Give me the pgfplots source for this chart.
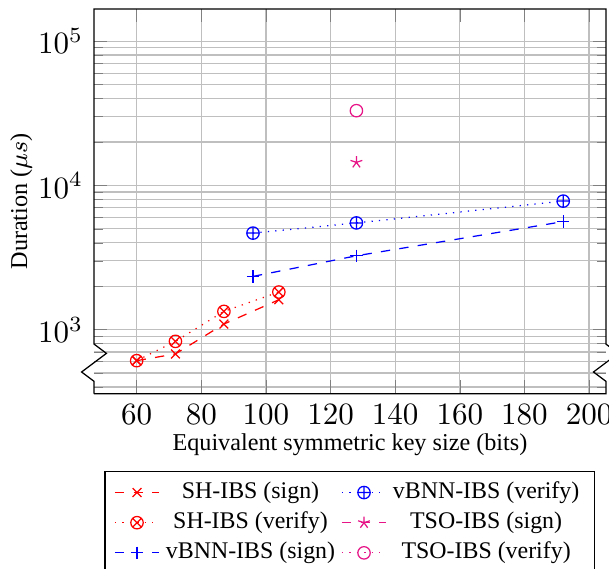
\documentclass[border=0pt]{standalone}
\usepackage{fontspec}
\setmainfont{Liberation Serif}
\usepackage{pgfplots}
\pgfplotsset{compat=1.18}
\definecolor{tsocol}{RGB}{230,20,135}
\begin{document}
\begin{tikzpicture}
\begin{axis}[
  scale only axis,
  width=165pt, height=124pt,
  ymode=log,
  xmin=46.8, xmax=205.2,
  ymin=360, ymax=1.67e5,
  xtick={60,80,...,200},
  grid=both,
  axis y discontinuity=crunch,
  xlabel={Equivalent symmetric key size (bits)},
  ylabel={Duration ($\mu s$)},
  label style={font=\fontsize{7.8}{9}\selectfont},
  ylabel style={yshift=-5pt},
  xlabel style={yshift=4pt},
  legend columns=2,
  legend cell align=center,
  legend image code/.code={\draw[mark repeat=2,mark phase=2,#1] plot coordinates {(0cm,0cm) (0.25cm,0cm) (0.5cm,0cm)};},
  legend style={at={(0.5,-0.2)},anchor=north,font=\fontsize{7.7}{9}\selectfont,nodes={inner ysep=1.4pt}},
]
\addplot[red, dashed, mark=x, mark options={solid}] coordinates {(60,610) (72,679) (87,1094) (104,1613)};
\addlegendentry{SH-IBS (sign)}
\addplot[blue, dotted, mark=oplus, mark options={solid}] coordinates {(96,4670) (128,5495) (192,7785)};
\addlegendentry{vBNN-IBS (verify)}
\addplot[red, dotted, mark=otimes, mark options={solid}] coordinates {(60,610) (72,830) (87,1339) (104,1824)};
\addlegendentry{SH-IBS (verify)}
\addplot[tsocol, dashed, mark=star, mark options={solid}] coordinates {(128,14450)};
\addlegendentry{TSO-IBS (sign)}
\addplot[blue, dashed, mark=+, mark options={solid}] coordinates {(96,2340) (128,3252) (192,5610)};
\addlegendentry{vBNN-IBS (sign)}
\addplot[tsocol, dotted, mark=o, mark options={solid}] coordinates {(128,32960)};
\addlegendentry{TSO-IBS (verify)}
\coordinate (bl) at (rel axis cs:0,0);
\coordinate (tr) at (rel axis cs:1,1);
\end{axis}
\pgfresetboundingbox
\path[use as bounding box] ([shift={(-30.3pt,-56.5pt)}]bl) rectangle ([shift={(1pt,2.9pt)}]tr);
\end{tikzpicture}
\end{document}
